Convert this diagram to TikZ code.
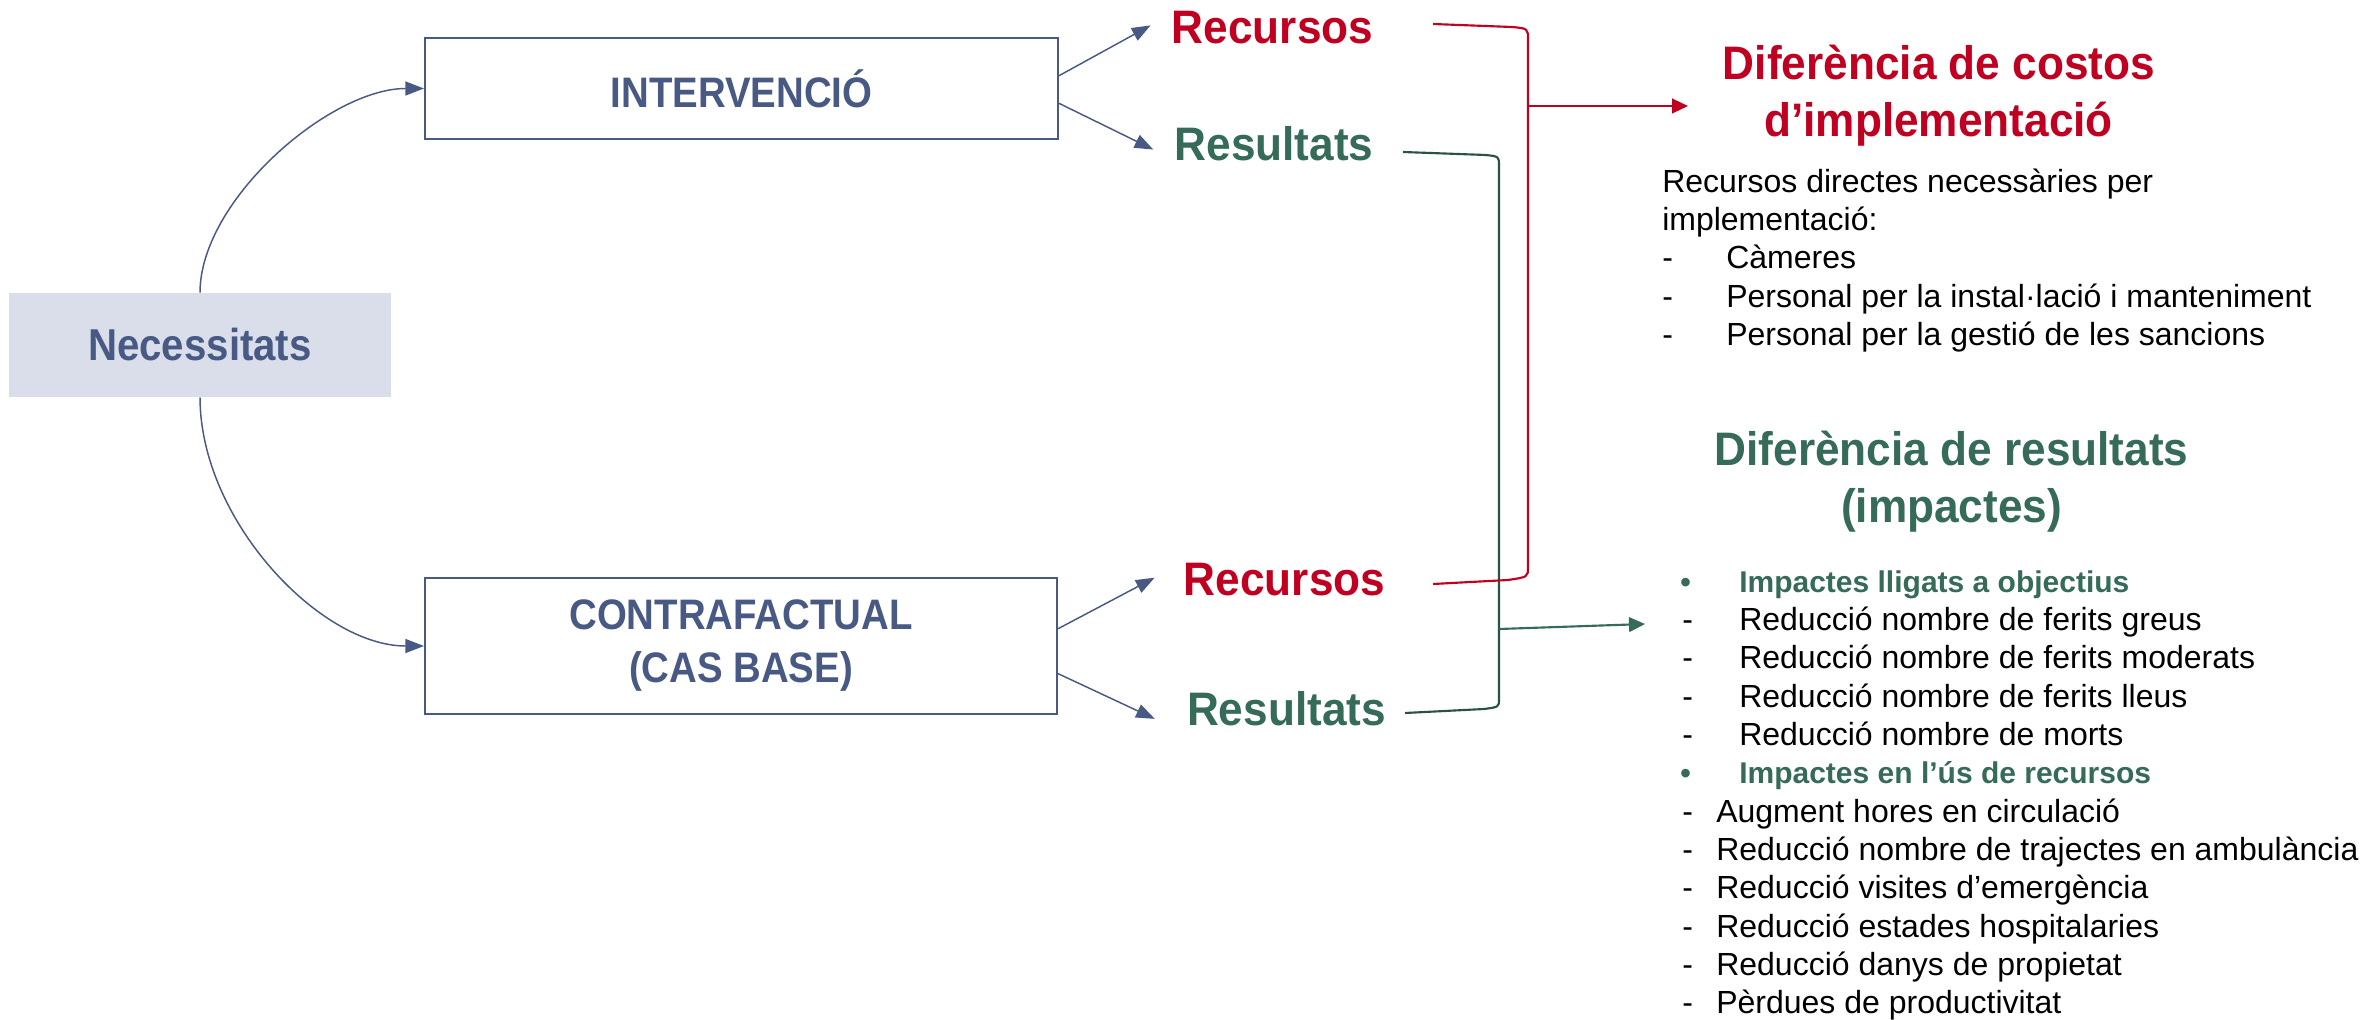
\documentclass[tikz,border=0pt]{standalone}
\usepackage{fontspec}
\setmainfont{Liberation Sans}
\newfontfamily\bfA{Liberation Sans}[FakeStretch=0.90]
\newfontfamily\bfB{Liberation Sans}[FakeStretch=0.94]
\usetikzlibrary{arrows.meta,calc}
\definecolor{cblue}{RGB}{72,89,132}
\definecolor{cred}{RGB}{192,0,32}
\definecolor{cgreen}{RGB}{53,107,88}
\definecolor{cgline}{RGB}{40,82,66}
\definecolor{cfill}{RGB}{217,222,234}
\begin{document}
\begin{tikzpicture}[x=0.75pt,y=-0.75pt,
  box/.style={draw=cblue,line width=1.5pt,fill=white,text=cblue,align=center,
    font=\bfA\fontsize{32}{39.75}\selectfont\bfseries},
  lab/.style={inner sep=0pt,anchor=base,font=\bfB\fontsize{35.25}{40}\selectfont\bfseries},
  body/.style={inner sep=0pt,anchor=base west,font=\fontsize{24}{29}\selectfont},
  gb/.style={inner sep=0pt,anchor=base west,font=\fontsize{22.5}{27}\selectfont\bfseries,text=cgreen},
  conn/.style={draw=cblue,line width=1.1pt,-{Triangle[length=14pt,width=10.5pt]}},
  redline/.style={draw=cred,line width=1.6pt,line join=round},
  greenline/.style={draw=cgline,line width=1.6pt,line join=round},
  redarrow/.style={draw=cred,line width=1.6pt,-{Triangle[length=12pt,width=11pt]}},
  greenarrow/.style={draw=cgreen,line width=1.6pt,-{Triangle[length=12pt,width=11pt]}}
]
\useasboundingbox (0,0) rectangle (2379,1020);

% main boxes
\node[fill=cfill,text=cblue,font=\bfA\fontsize{33.5}{40}\selectfont\bfseries,
  minimum width=286.5pt,minimum height=78pt,inner sep=0pt] (nec) at (200,345) {Necessitats};
\node[box,minimum width=474.75pt,minimum height=75.75pt] (int) at (741.5,88.5) {INTERVENCIÓ};
\node[box,minimum width=474pt,minimum height=102pt] (cf) at (741,646) {CONTRAFACTUAL\\(CAS BASE)};

% curves from Necessitats
\draw[conn] (nec.north) .. controls (200,200) and (330,88.5) .. (int.west);
\draw[conn] (nec.south) .. controls (200,520) and (320,646) .. (cf.west);

% labels
\node[lab,text=cred] (rec1) at (1272.5,44) {Recursos};
\node[lab,text=cgreen] (res1) at (1274,161) {Resultats};
\node[lab,text=cred] (rec2) at (1284.5,595) {Recursos};
\node[lab,text=cgreen] (res2) at (1286.5,725) {Resultats};

% arrows from boxes
\draw[conn] ($(int.north east)!0.376!(int.south east)$) -- ([xshift=-15.75pt,yshift=2pt]rec1.west);
\draw[conn] ($(int.north east)!0.644!(int.south east)$) -- ([xshift=-15.75pt,yshift=-4pt]res1.west);
\draw[conn] ($(cf.north east)!0.375!(cf.south east)$) -- ([xshift=-21.75pt,yshift=1pt]rec2.west);
\draw[conn] ($(cf.north east)!0.70!(cf.south east)$) -- ([xshift=-24pt,yshift=-8pt]res2.west);

% brackets
\draw[greenline] (1403,152) -- (1486,155) .. controls (1499,156.5) .. (1499,166) -- (1499,699)
  .. controls (1499,707) .. (1484,709) -- (1405,713);
\draw[redline] (1433,24) -- (1512,27) .. controls (1528,28.5) .. (1528,40) -- (1528,567)
  .. controls (1528,577) .. (1508,580) -- (1433,584);

\coordinate (rj) at (1528,106);
\coordinate (rt) at (1688,106);
\coordinate (gj) at (1499,629);
\coordinate (gt) at (1645,624);
\draw[redarrow] (rj) -- (rt);
\draw[greenarrow] (gj) -- (gt);

% headings
\node[lab,text=cred] (hc1) at (1939,80) {Diferència de costos};
\node[lab,text=cred] (hc2) at (1938.5,137) {d’implementació};
\node[lab,text=cgreen] (hr1) at (1951.5,465) {Diferència de resultats};
\node[lab,text=cgreen] (hr2) at (1951.5,522) {(impactes)};

% costs body
\node[body] (b1) at (1662,192) {Recursos directes necessàries per};
\node[body] (b2) at (1662,230) {implementació:};
\node[body] (d1) at (1662,268) {-};
\node[body] (t1) at (1726,268) {Càmeres};
\node[body] (d2) at (1662,307) {-};
\node[body] (t2) at (1726,307) {Personal per la instal·lació i manteniment};
\node[body] (d3) at (1662,345) {-};
\node[body] (t3) at (1726,345) {Personal per la gestió de les sancions};

% results list
\node[gb] (p1) at (1680,592) {•};
\node[gb] (q1) at (1739,592) {Impactes lligats a objectius};
\node[body] (p2) at (1682,630) {-};
\node[body] (q2) at (1739,630) {Reducció nombre de ferits greus};
\node[body] (p3) at (1682,668) {-};
\node[body] (q3) at (1739,668) {Reducció nombre de ferits moderats};
\node[body] (p4) at (1682,707) {-};
\node[body] (q4) at (1739,707) {Reducció nombre de ferits lleus};
\node[body] (p5) at (1682,745) {-};
\node[body] (q5) at (1739,745) {Reducció nombre de morts};
\node[gb] (p6) at (1680,783) {•};
\node[gb] (q6) at (1739,783) {Impactes en l’ús de recursos};
\node[body] (p7) at (1682,822) {-};
\node[body] (q7) at (1716,822) {Augment hores en circulació};
\node[body] (p8) at (1682,860) {-};
\node[body] (q8) at (1716,860) {Reducció nombre de trajectes en ambulància};
\node[body] (p9) at (1682,898) {-};
\node[body] (q9) at (1716,898) {Reducció visites d’emergència};
\node[body] (p10) at (1682,937) {-};
\node[body] (q10) at (1716,937) {Reducció estades hospitalaries};
\node[body] (p11) at (1682,975) {-};
\node[body] (q11) at (1716,975) {Reducció danys de propietat};
\node[body] (p12) at (1682,1013) {-};
\node[body] (q12) at (1716,1013) {Pèrdues de productivitat};
\end{tikzpicture}
\end{document}
